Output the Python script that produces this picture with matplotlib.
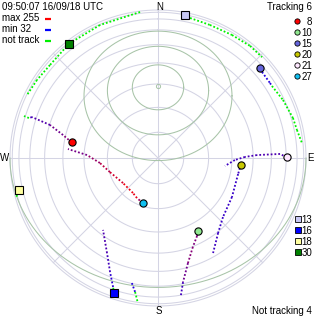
import numpy as np
import matplotlib
matplotlib.use("Agg")
import matplotlib.pyplot as plt
from matplotlib.lines import Line2D
from matplotlib.collections import LineCollection

plt.rcParams.update({"font.family": ["Liberation Sans", "DejaVu Sans"], "font.size": 7})

# %% data
stamp = "09:50:07 16/09/18 UTC"
sig_max, sig_min = 255, 32
latitude = 61.0

elev_rings = [0, 10, 20, 30, 40, 50, 60, 70, 80]
az_spokes = [0, 45, 90, 135, 180, 225, 270, 315]
dec_rings = [80, 70, 60, 0]

track_prn = [8, 10, 15, 20, 21, 27]
track_az = [280.3, 151.0, 48.7, 94.8, 89.7, 198.7]
track_el = [53.6, 55.9, 23.4, 55.7, 29.5, 71.3]
track_col = ["#ff0000", "#90e890", "#6464dc", "#c8c800", "#ffe8ff", "#10c0f0"]

lost_prn = [13, 16, 18, 30]
lost_az = [10.8, 198.0, 257.0, 322.1]
lost_el = [9.7, 16.0, 15.9, 11.8]
lost_col = ["#c8c8f4", "#0000ff", "#ffffa0", "#008000"]

# trails (az, el, signal), newest first; signal 0 = not tracked
trail_8 = [(280.3, 53.6, 150), (283.6, 48.7, 130), (287.0, 40.3, 105), (288.0, 26.5, 90),
           (287.2, 24.1, 0), (287.4, 18.4, 0)]
trail_27 = [(198.7, 71.3, 170), (207.7, 72.2, 235), (215.6, 73.1, 240), (234.4, 73.1, 215),
            (253.7, 70.2, 195), (265.1, 66.8, 165), (272.4, 61.3, 135), (275.7, 52.3, 130)]
trail_21 = [(89.7, 29.5, 100), (88.1, 34.4, 100), (88.3, 48.0, 95), (89.3, 54.0, 90),
            (91.5, 58.7, 85), (96.8, 62.9, 85)]
trail_20 = [(94.8, 55.7, 85), (97.0, 56.1, 85), (101.3, 56.5, 80), (117.8, 55.6, 80),
            (132.3, 53.6, 80), (141.3, 49.5, 85), (149.9, 42.1, 85)]
trail_10 = [(151.0, 55.9, 140), (153.4, 53.9, 145), (158.6, 49.8, 150), (164.1, 42.4, 130),
            (168.6, 31.2, 90), (170.5, 20.1, 80)]
trail_15 = [(48.7, 23.4, 60), (50.4, 24.2, 60), (56.2, 24.4, 60), (57.7, 24.4, 0),
            (65.1, 21.4, 0), (73.5, 18.0, 0), (78.6, 16.7, 0), (84.1, 12.0, 0)]
trail_16 = [(198.0, 16.0, 0), (199.2, 22.6, 70), (202.8, 33.3, 90), (208.2, 43.2, 100),
            (217.4, 52.3, 100)]
trail_13 = [(10.8, 9.7, 0), (12.9, 14.0, 0), (21.3, 15.2, 0), (31.0, 14.1, 0),
            (39.4, 11.5, 0), (45.9, 11.7, 0)]
trail_30 = [(353.0, 6.4, 0), (336.4, 11.4, 0), (322.1, 11.8, 0), (310.7, 15.6, 0),
            (302.8, 13.3, 0), (295.7, 10.9, 0)]
trail_18 = [(257.0, 15.9, 0), (255.3, 9.9, 0), (254.3, 4.6, 0)]
trail_gone = [(191.8, 30.3, 60), (189.7, 23.3, 0), (187.9, 8.4, 0)]

trails = [trail_13, trail_30, trail_15, trail_18, trail_gone, trail_16,
          trail_8, trail_27, trail_21, trail_20, trail_10]

# %% helpers
W = 317
grid_c = "#d4d4e4"
dec_c = "#a8c4a8"


def proj(az, el):
    az = np.radians(np.asarray(az, dtype=float))
    el = np.radians(np.asarray(el, dtype=float))
    return np.cos(el) * np.sin(az), np.cos(el) * np.cos(az)


def sig_color(s):
    if s == 0:
        return (0.0, 0.95, 0.0)
    t = (s - sig_min) / (sig_max - sig_min)
    return (t, 0.0, 1.0 - t)


def fx(px):
    return px / W


def fy(py):
    return 1 - py / W


fig = plt.figure(figsize=(W / 100, W / 100), dpi=100)
ax = fig.add_axes([0, 0, 1, 1])
ax.set_xlim(-158 / 148, 159 / 148)
ax.set_ylim(-159 / 148, 158 / 148)
ax.set_aspect("equal")
ax.axis("off")

# elevation rings and spokes
th = np.linspace(0, 360, 721)
for e in elev_rings:
    x, y = proj(th, np.full_like(th, e))
    ax.plot(x, y, color=grid_c, lw=0.75, zorder=1)
for a in az_spokes:
    x, y = proj([a, a], [0, 90])
    ax.plot(x, y, color=grid_c, lw=0.75, zorder=1)

# declination rings around the pole
phi = np.radians(latitude)
p = np.array([0, np.cos(phi), np.sin(phi)])
u = np.array([1.0, 0, 0])
v = np.array([0, -np.sin(phi), np.cos(phi)])
t = np.radians(np.linspace(0, 360, 721))
for d in dec_rings:
    rho = np.radians(90 - d)
    pts = (np.cos(rho) * p[:, None]
           + np.sin(rho) * (np.cos(t) * u[:, None] + np.sin(t) * v[:, None]))
    x, y = pts[0].copy(), pts[1].copy()
    x[pts[2] < 0] = np.nan
    y[pts[2] < 0] = np.nan
    ax.plot(x, y, color=dec_c, lw=0.75, zorder=2)
px, py = proj(0, latitude)
ax.plot(px, py, "o", ms=3, mfc="none", mec=dec_c, mew=0.7, zorder=2)

# trails
for tr in trails:
    az, el, sg = zip(*tr)
    x, y = proj(az, el)
    segs = [[(x[i], y[i]), (x[i + 1], y[i + 1])] for i in range(len(x) - 1)]
    cols = [sig_color(s) for s in sg[:-1]]
    lc = LineCollection(segs, colors=cols, linewidths=1.3,
                        linestyles=[(0, (1.0, 1.1))], zorder=3)
    ax.add_collection(lc)

# satellites
x, y = proj(track_az, track_el)
for xi, yi, c in zip(x, y, track_col):
    ax.plot(xi, yi, "o", ms=5.2, mfc=c, mec="black", mew=0.8, zorder=5)
x, y = proj(lost_az, lost_el)
for xi, yi, c in zip(x, y, lost_col):
    ax.plot(xi, yi, "s", ms=5.2, mfc=c, mec="black", mew=0.8, zorder=5)

# compass
fig.text(fx(159.5), fy(6.5), "N", ha="center", va="center")
fig.text(fx(158.5), fy(310.5), "S", ha="center", va="center")
fig.text(fx(5), fy(158), "W", ha="center", va="center")
fig.text(fx(310.5), fy(158), "E", ha="center", va="center")

# top-left legend
fig.text(fx(1.5), fy(9.5), stamp, ha="left", va="baseline")
for i, (lab, c) in enumerate([(f"max {sig_max}", "#ff0000"), (f"min {sig_min}", "#0000ff"),
                              ("not track", "#00f000")]):
    yb = 21.3 + 11 * i
    fig.text(fx(1.5), fy(yb), lab, ha="left", va="baseline")
    fig.add_artist(Line2D([fx(45), fx(50.5)], [fy(yb - 2.5)] * 2, color=c, lw=1.6,
                          solid_capstyle="butt"))

# right legends
fig.text(fx(312), fy(9.5), f"Tracking {len(track_prn)}", ha="right", va="baseline")
for i, (n, c) in enumerate(zip(track_prn, track_col)):
    yc = 20.8 + 11 * i
    fig.add_artist(Line2D([fx(297)], [fy(yc)], marker="o", ms=3.8, mfc=c, mec="black",
                          mew=0.6, ls="none"))
    fig.text(fx(312), fy(yc + 4), str(n), ha="right", va="baseline")

for i, (n, c) in enumerate(zip(lost_prn, lost_col)):
    yc = 219 + 11 * i
    fig.add_artist(Line2D([fx(297.5)], [fy(yc)], marker="s", ms=3.8, mfc=c, mec="black",
                          mew=0.6, ls="none"))
    fig.text(fx(312.5), fy(yc + 4), str(n), ha="right", va="baseline")
fig.text(fx(312), fy(313.5), f"Not tracking {len(lost_prn)}", ha="right", va="baseline")

fig.savefig("out.png", dpi=100, facecolor="white")
